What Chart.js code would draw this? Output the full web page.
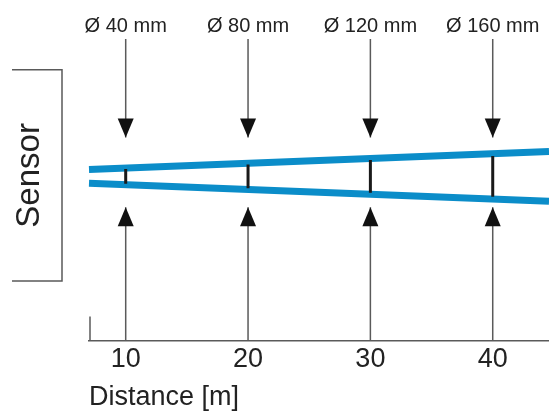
<!DOCTYPE html>
<html>
<head>
<meta charset="utf-8">
<script src="https://cdn.jsdelivr.net/npm/chart.js@4"></script>
<style>
  html, body { margin: 0; padding: 0; background: #fff; }
  #wrap { width: 549px; height: 411px; }
</style>
</head>
<body>
<div id="wrap"><canvas id="myChart"></canvas></div>
<script>
// distances along the beam (m) and spot diameters
const distances = [10, 20, 30, 40];
const diameterLabels = ['Ø 40 mm', 'Ø 80 mm', 'Ø 120 mm', 'Ø 160 mm'];

// beam edges (schematic units, centre line = 0)
const beamDistance = [7, 44.6];
const beamUpper = [7, 25];
const beamLower = [-7, -25];

// half height of the black spot marks at each distance
const spotHalf = [7.5, 12, 16.5, 20.5];

// arrow shafts: from -> tip
const arrowTop = [138, 39];
const arrowBottom = [-165, -31];

const xMin = 7, xMax = 44.6;
const yMin = -165, yMax = 138;

const FONT = '"Liberation Sans", Arial, sans-serif';
const BLUE = '#0b8dc9';
const GREY = '#5a5a5a';

function segments(list) {
    const out = [];
    list.forEach(s => {
        out.push({x: s[0], y: s[1]}, {x: s[0], y: s[2]}, {x: s[0], y: null});
    });
    return out;
}

const beamTop = beamDistance.map((d, i) => ({x: d, y: beamUpper[i]}));
const beamBot = beamDistance.map((d, i) => ({x: d, y: beamLower[i]}));
const spots = segments(distances.map((d, i) => [d, spotHalf[i], -spotHalf[i]]));
const shaftsTop = segments(distances.map(d => [d, arrowTop[0], arrowTop[1]]));
const shaftsBot = segments(distances.map(d => [d, arrowBottom[0], arrowBottom[1]]));

const decor = {
    id: 'decor',
    afterDatasetsDraw(chart) {
        const ctx = chart.ctx;
        const xs = chart.scales.x, ys = chart.scales.y;
        ctx.save();
        // arrow heads
        ctx.fillStyle = '#111';
        distances.forEach(d => {
            const px = xs.getPixelForValue(d);
            const t = ys.getPixelForValue(arrowTop[1]);
            ctx.beginPath();
            ctx.moveTo(px, t);
            ctx.lineTo(px - 8, t - 19);
            ctx.lineTo(px + 8, t - 19);
            ctx.closePath();
            ctx.fill();
            const b = ys.getPixelForValue(arrowBottom[1]);
            ctx.beginPath();
            ctx.moveTo(px, b);
            ctx.lineTo(px - 8, b + 19);
            ctx.lineTo(px + 8, b + 19);
            ctx.closePath();
            ctx.fill();
        });
        // small start tick on the axis
        ctx.strokeStyle = GREY;
        ctx.lineWidth = 1.5;
        ctx.beginPath();
        ctx.moveTo(xs.left + 1, ys.bottom - 24);
        ctx.lineTo(xs.left + 1, ys.bottom);
        ctx.stroke();
        // sensor bracket
        const bx = xs.left - 27;
        const top = ys.getPixelForValue(107), bot = ys.getPixelForValue(-105);
        ctx.beginPath();
        ctx.moveTo(12, top);
        ctx.lineTo(bx, top);
        ctx.lineTo(bx, bot);
        ctx.lineTo(12, bot);
        ctx.stroke();
        ctx.translate(30, ys.getPixelForValue(1));
        ctx.rotate(-Math.PI / 2);
        ctx.fillStyle = '#222';
        ctx.font = '33px ' + FONT;
        ctx.textAlign = 'center';
        ctx.textBaseline = 'middle';
        ctx.fillText('Sensor', 0, 0);
        ctx.restore();
    }
};

const lineSet = (data, color, width) => ({
    data: data,
    borderColor: color,
    borderWidth: width,
    pointRadius: 0,
    spanGaps: false,
    clip: false,
    borderCapStyle: 'butt',
});

new Chart(document.getElementById('myChart').getContext('2d'), {
    type: 'line',
    data: {
        datasets: [
            lineSet(shaftsTop, GREY, 1.5),
            lineSet(shaftsBot, GREY, 1.5),
            lineSet(spots, '#1a1a1a', 3),
            lineSet(beamTop, BLUE, 7),
            lineSet(beamBot, BLUE, 7),
        ]
    },
    options: {
        responsive: true,
        maintainAspectRatio: false,
        animation: false,
        events: [],
        layout: { padding: { left: 89, right: 0, top: 13, bottom: 0 } },
        plugins: { legend: { display: false }, tooltip: { enabled: false } },
        scales: {
            x: {
                type: 'linear',
                min: xMin, max: xMax,
                afterBuildTicks: s => { s.ticks = distances.map(v => ({value: v})); },
                grid: { display: false, drawTicks: false },
                border: { color: GREY, width: 1.5 },
                ticks: { color: '#222', padding: 3, font: { family: FONT, size: 27 } },
                title: {
                    display: true, text: 'Distance [m]', align: 'start', color: '#222',
                    font: { family: FONT, size: 27, lineHeight: 1.0 },
                    padding: { top: 5, bottom: 0 }
                }
            },
            x2: {
                type: 'linear',
                position: 'top',
                min: xMin, max: xMax,
                afterBuildTicks: s => { s.ticks = distances.map(v => ({value: v})); },
                grid: { display: false, drawTicks: false },
                border: { display: false },
                ticks: {
                    color: '#222', padding: 1, font: { family: FONT, size: 20 },
                    callback: v => diameterLabels[distances.indexOf(v)]
                }
            },
            y: {
                type: 'linear',
                display: false,
                min: yMin, max: yMax
            }
        }
    },
    plugins: [decor]
});
</script>
</body>
</html>
